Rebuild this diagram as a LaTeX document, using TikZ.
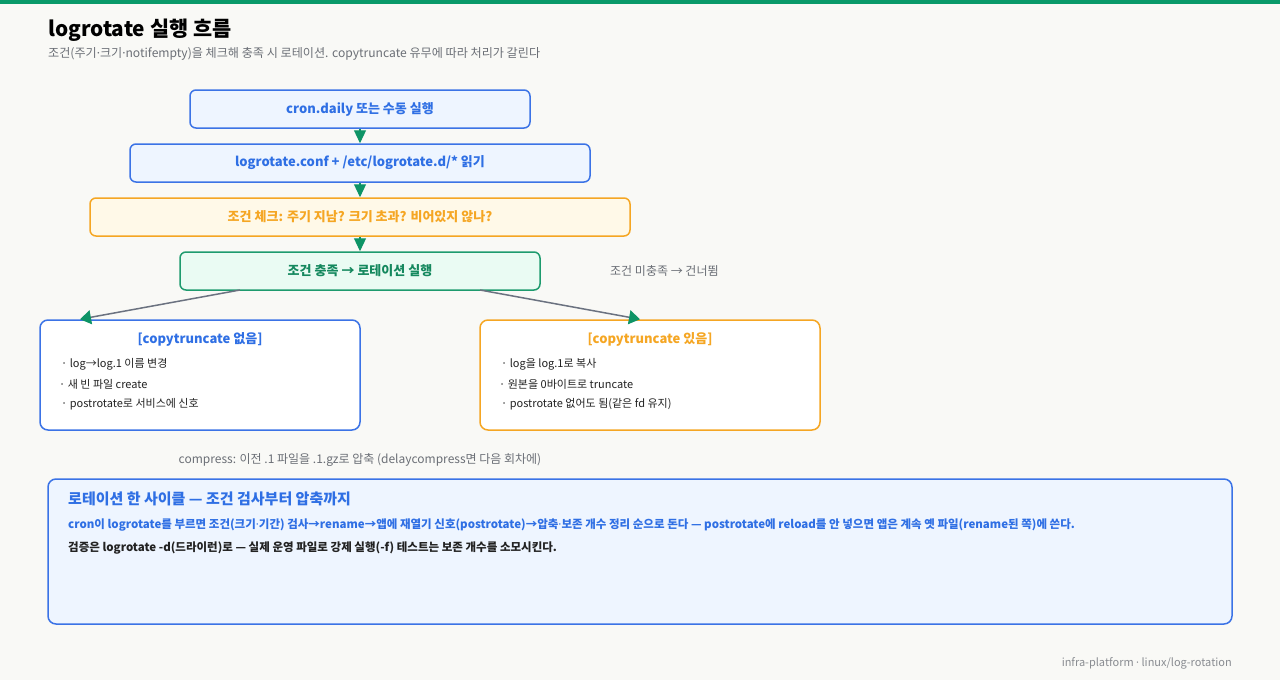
\documentclass[tikz,border=0pt]{standalone}
\usepackage{fontspec}
\setmainfont{Noto Sans CJK KR}
\newfontfamily\latinf{Noto Sans}
\newcommand\mdot{{\latinf ·}}
\usetikzlibrary{arrows.meta}
\definecolor{bg}{HTML}{F9F9F6}
\definecolor{topbar}{HTML}{0A9A6A}
\definecolor{blueb}{HTML}{3B73E6}
\definecolor{bluef}{HTML}{EEF5FF}
\definecolor{bluet}{HTML}{2F6FE4}
\definecolor{orab}{HTML}{F5A623}
\definecolor{oraf}{HTML}{FFF9E8}
\definecolor{grnb}{HTML}{1E9B6E}
\definecolor{grnf}{HTML}{EAFBF3}
\definecolor{grnt}{HTML}{15885E}
\definecolor{arr}{HTML}{0E9466}
\definecolor{lineg}{HTML}{6B7280}
\definecolor{txtg}{HTML}{6B6F76}
\definecolor{txtd}{HTML}{222222}
\tikzset{
  flowbox/.style={draw, line width=1.5pt, rounded corners=6pt, minimum height=38pt, inner sep=0pt, font=\fontsize{13}{15}\selectfont\bfseries},
  bluebox/.style={flowbox, draw=blueb, fill=bluef, text=bluet},
  orabox/.style={flowbox, draw=orab, fill=oraf, text=orab},
  grnbox/.style={flowbox, draw=grnb, fill=grnf, text=grnt},
  panel/.style={draw, line width=1.5pt, rounded corners=8pt, fill=white, minimum height=110pt, inner sep=0pt},
  ptitle/.style={font=\fontsize{13}{15}\selectfont\bfseries, inner sep=0pt},
  item/.style={font=\fontsize{11}{13}\selectfont, text=txtd, anchor=west, inner sep=0pt},
  vflow/.style={draw=arr, line width=1.2pt, -{Triangle[length=13pt,width=12pt]}},
  dflow/.style={draw=lineg, line width=1.5pt, -{Triangle[length=11pt,width=14pt,color=arr,fill=arr]}},
  note/.style={font=\fontsize{12}{14}\selectfont, text=txtg, inner sep=0pt},
}
\begin{document}
\begin{tikzpicture}[x=1pt,y=-1pt]
\path[fill=bg] (0,0) rectangle (1280,680);
\useasboundingbox (0,0) rectangle (1280,680);
\fill[topbar] (0,0) rectangle (1280,4);
\node[anchor=base west, inner sep=0pt, font=\fontsize{20.8}{24}\selectfont\bfseries, text=black] (title) at (48,36) {logrotate 실행 흐름};
\node[anchor=base west, inner sep=0pt, font=\fontsize{12.1}{14}\selectfont, text=txtg] (sub) at (48,57) {조건(주기\mdot 크기\mdot notifempty)을 체크해 충족 시 로테이션. copytruncate 유무에 따라 처리가 갈린다};

\node[bluebox, minimum width=340pt] (b1) at (360,109) {cron.daily 또는 수동 실행};
\node[bluebox, minimum width=460pt] (b2) at (360,163) {logrotate.conf + /etc/logrotate.d/* 읽기};
\node[orabox, minimum width=540pt] (b3) at (360,217) {조건 체크: 주기 지남? 크기 초과? 비어있지 않나?};
\node[grnbox, minimum width=360pt] (b4) at (360,271) {조건 충족 → 로테이션 실행};
\node[note, anchor=west] (skip) at (610,271) {조건 미충족 → 건너뜀};

\draw[vflow] (b1.south) -- (b2.north);
\draw[vflow] (b2.south) -- (b3.north);
\draw[vflow] (b3.south) -- (b4.north);

\node[panel, draw=blueb, minimum width=320pt] (p1) at (200,375) {};
\node[panel, draw=orab, minimum width=340pt] (p2) at (650,375) {};
\coordinate (s1) at (240,290);
\coordinate (s2) at (480,290);
\draw[dflow] (s1) -- (p1.north west -| 80,320);
\draw[dflow] (s2) -- (p2.north west -| 640,320);

\node[ptitle, text=bluet] (p1t) at (200,339) {[copytruncate 없음]};
\node[item] (p1a) at (61,364) {· log→log.1 이름 변경};
\node[item] (p1b) at (59,384) {· 새 빈 파일 create};
\node[item] (p1c) at (61,404) {· postrotate로 서비스에 신호};

\node[ptitle, text=orab] (p2t) at (650,339) {[copytruncate 있음]};
\node[item] (p2a) at (501,364) {· log을 log.1로 복사};
\node[item] (p2b) at (499,384) {· 원본을 0바이트로 truncate};
\node[item] (p2c) at (501,404) {· postrotate 없어도 됨(같은 fd 유지)};

\node[note] (comp) at (360,460) {compress: 이전 .1 파일을 .1.gz로 압축 (delaycompress면 다음 회차에)};

\node[draw=blueb, fill=bluef, line width=1.5pt, rounded corners=8pt, minimum width=1184pt, minimum height=145pt, inner sep=0pt] (sum) at (640,551.5) {};
\node[anchor=base west, inner sep=0pt, font=\fontsize{15}{18}\selectfont\bfseries, text=bluet] (sumt) at (68,504) {로테이션 한 사이클 — 조건 검사부터 압축까지};
\node[anchor=base west, inner sep=0pt, font=\fontsize{11.5}{14}\selectfont\bfseries, text=bluet] (sum1) at (68,528) {cron이 logrotate를 부르면 조건(크기\mdot 기간) 검사→rename→앱에 재열기 신호(postrotate)→압축\mdot 보존 개수 정리 순으로 돈다 — postrotate에 reload를 안 넣으면 앱은 계속 옛 파일(rename된 쪽)에 쓴다.};
\node[anchor=base west, inner sep=0pt, font=\fontsize{11.5}{14}\selectfont\bfseries, text=txtd] (sum2) at (68,551) {검증은 logrotate -d(드라이런)로 — 실제 운영 파일로 강제 실행(-f) 테스트는 보존 개수를 소모시킨다.};

\node[anchor=base east, inner sep=0pt, font=\fontsize{11}{13}\selectfont, text=txtg!80] (foot) at (1232,666) {infra-platform \mdot\ linux/log-rotation};
\end{tikzpicture}
\end{document}
